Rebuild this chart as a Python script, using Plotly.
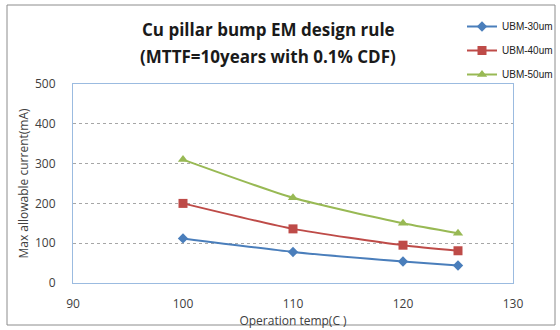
import plotly.graph_objects as go

# Operating temperature (C) and max allowable current (mA) per UBM size
temps = [100, 110, 120, 125]
ubm30 = [112, 78, 54, 44]
ubm40 = [200, 136, 95, 81]
ubm50 = [310, 214, 150, 125]

series_names = ["UBM-30um", "UBM-40um", "UBM-50um"]
series_vals = [ubm30, ubm40, ubm50]
colors = ["#4a7ebb", "#be4b48", "#98b954"]
symbols = ["diamond", "square", "triangle-up"]
marker_sizes = [8, 9, 9]

title_lines = ["Cu pillar bump EM design rule", "(MTTF=10years with 0.1% CDF)"]

fig = go.Figure()
for i, (name, vals) in enumerate(zip(series_names, series_vals)):
    fig.add_trace(go.Scatter(
        x=temps, y=vals, name=name, mode="lines+markers",
        line=dict(color=colors[i], width=2, shape="spline", smoothing=0.6),
        marker=dict(symbol=symbols[i], size=marker_sizes[i], color=colors[i]),
        legendgroup=name,
    ))

axis_font = dict(family="Open Sans, Liberation Sans, sans-serif", size=12, color="#404040")
title_font = dict(family="Open Sans, Liberation Sans, sans-serif", size=17, color="#1a1a1a")

fig.update_layout(
    width=560, height=330,
    margin=dict(l=73, r=47, t=84, b=47, autoexpand=False),
    paper_bgcolor="white", plot_bgcolor="white",
    legend=dict(
        x=462 / 560, y=1 - 12 / 330, xanchor="left", yanchor="top",
        xref="container", yref="container",
        font=dict(family="Liberation Sans, sans-serif", size=10, color="#222222"),
        bgcolor="rgba(0,0,0,0)", tracegroupgap=5, itemwidth=30,
    ),
    xaxis=dict(
        range=[90, 130], dtick=10, showgrid=False, zeroline=False,
        showline=True, linecolor="#9bbbe0", linewidth=1, mirror=True,
        ticks="", tickfont=axis_font, ticklabelstandoff=10,
        title=dict(text="Operation temp(C )", font=axis_font, standoff=0),
    ),
    yaxis=dict(
        range=[0, 500], dtick=100, showgrid=True, gridcolor="#a6a6a6",
        griddash="dot", gridwidth=1, zeroline=False,
        showline=True, linecolor="#9bbbe0", linewidth=1, mirror=True,
        ticks="", tickfont=axis_font, ticklabelstandoff=14,
        title=dict(text="Max allowable current(mA)", font=axis_font, standoff=3),
    ),
    showlegend=True,
)

# Two-line chart title
for text, ypx in zip(title_lines, [30, 57]):
    fig.add_annotation(text=f"<b>{text}</b>", xref="paper", yref="paper",
                       x=(268 - 73) / 440, y=(283 - ypx) / 199,
                       xanchor="center", yanchor="middle", showarrow=False,
                       font=title_font)

# Outer chart frame
fig.add_shape(type="rect", xref="paper", yref="paper",
              x0=(7 - 73) / 440, x1=(555 - 73) / 440,
              y0=(283 - 325) / 199, y1=(283 - 5) / 199,
              line=dict(color="#8c8c8c", width=1), layer="below")

fig.write_html("out.html")
